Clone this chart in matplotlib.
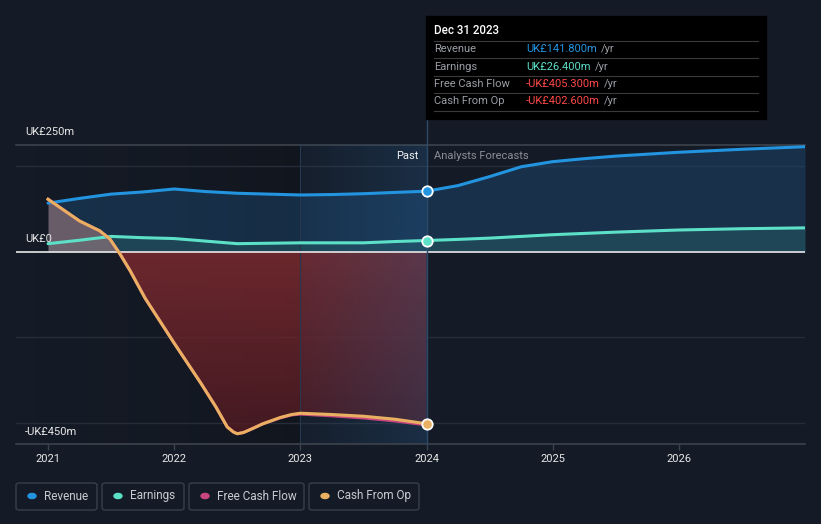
import numpy as np
import matplotlib.pyplot as plt
from matplotlib.patches import Rectangle, FancyBboxPatch, Circle

plt.rcParams['font.family'] = ['Roboto', 'DejaVu Sans']

# past data (UK£m)
past_x = [2021.0, 2021.25, 2021.5, 2021.75, 2022.0, 2022.25, 2022.5, 2022.75,
          2023.0, 2023.25, 2023.5, 2023.75, 2024.0]
revenue = [114, 125, 135, 140, 147, 141, 137, 135, 133, 134, 136, 139, 141.8]
earnings = [19, 27, 36, 33, 31, 25, 19, 20, 21, 21, 21, 24, 26.4]
cfo_x = [2021.0, 2021.25, 2021.41, 2021.49, 2021.57, 2021.65, 2021.77, 2022.0,
         2022.21, 2022.33, 2022.42, 2022.47, 2022.5, 2022.55, 2022.62, 2022.7,
         2022.84, 2022.93, 2023.0, 2023.25, 2023.5, 2023.75, 2024.0]
cash_from_op = [123, 72, 49, 30, -5, -44, -109, -214,
                -307, -363, -410, -422, -426, -423, -414, -403,
                -388, -381, -378, -381, -385, -392, -402.6]
free_cash_flow = [123, 72, 49, 30, -5, -44, -109, -214,
                  -307, -363, -410, -422, -426, -423, -414, -403,
                  -389, -382, -380, -384, -389, -396, -405.3]

# analyst forecasts
fc_x = [2024.0, 2024.25, 2024.5, 2024.75, 2025.0, 2025.25, 2025.5, 2026.0, 2026.5, 2027.0]
revenue_fc = [141.8, 155, 176, 199, 211, 218, 224, 233, 240, 246]
earnings_fc = [26.4, 29, 32, 36, 40, 43, 46, 51, 54, 56]

years = [2021, 2022, 2023, 2024, 2025, 2026]

BG = '#151b26'
BLUE = '#2394df'
TEAL = '#5ce0c8'
PINK = '#c8467f'
ORANGE = '#e9b062'

W, H = 821, 524
fig = plt.figure(figsize=(W / 100, H / 100), dpi=100, facecolor=BG)


def fx(x):
    return x / W


def fy(y):
    return 1 - y / H


ax = fig.add_axes([fx(16), fy(444), fx(805) - fx(16), fy(145) - fy(444)])
ax.set_facecolor(BG)
x0, x1 = 2020.746, 2027.0
y0, y1 = -450, 250
ax.set_xlim(x0, x1)
ax.set_ylim(y0, y1)

# darker past background, getting darker toward 2023
grad = np.zeros((2, 256, 4))
grad[..., 3] = np.linspace(0, 0.35, 256) ** 1.5
ax.imshow(grad, extent=[x0, 2023.0, y0, y1], aspect='auto', zorder=0.5)

# grid
for g in [200, -200, -400]:
    ax.axhline(g, color='#272d38', lw=1, zorder=0.8)
ax.axhline(250, color='#3d434d', lw=1.2, zorder=0.8, clip_on=False)

# revenue / earnings fills
rx = past_x + fc_x[1:]
rv = revenue + revenue_fc[1:]
ev = earnings + earnings_fc[1:]
ax.fill_between(rx, rv, 0, color='#1d4f7c', alpha=0.42, lw=0, zorder=1)
ax.fill_between(rx, ev, 0, color='#2f7a78', alpha=0.3, lw=0, zorder=1.1)

# cash flow fill with vertical gradient (negative part)
cfo = np.array(cash_from_op)
poly = ax.fill_between(cfo_x, np.minimum(cfo, 0), 0, color='none', lw=0, zorder=1.2)
rg = np.zeros((256, 2, 4))
top = np.array([0.50, 0.17, 0.19])
bot = np.array([0.30, 0.10, 0.13])
t = np.linspace(0, 1, 256)[:, None]
rg[..., :3] = (top * (1 - t) + bot * t)[:, None, :]
rg[..., 3] = 0.82
im = ax.imshow(rg, extent=[2021.0, 2024.0, y0, 0], aspect='auto', zorder=1.2,
               origin='upper')
im.set_clip_path(poly.get_paths()[0], transform=ax.transData)
# positive part: greyish pink
ax.fill_between(cfo_x, cfo, 0, where=cfo > 0, interpolate=True,
                color='#a07a80', alpha=0.6, lw=0, zorder=1.25)

# highlight band 2023-2024 (over the fills)
band = np.zeros((2, 256, 4))
band[..., 0] = 0.16
band[..., 1] = 0.40
band[..., 2] = 0.62
band[..., 3] = np.linspace(0.05, 0.26, 256)
ax.imshow(band, extent=[2023.0, 2024.0, y0, y1], aspect='auto', zorder=2)
ax.axvline(2023.0, color='#25384d', lw=0.8, zorder=2.1)

# lines
ax.plot(past_x, revenue, color=BLUE, lw=2.2, zorder=3, solid_capstyle='round')
ax.plot(fc_x, revenue_fc, color=BLUE, lw=2.2, zorder=3, solid_capstyle='round')
ax.plot(past_x, earnings, color=TEAL, lw=2.2, zorder=3, solid_capstyle='round')
ax.plot(fc_x, earnings_fc, color=TEAL, lw=2.2, zorder=3, solid_capstyle='round')
ax.plot(cfo_x, free_cash_flow, color=PINK, lw=2.2, zorder=3.1, solid_joinstyle='round')
ax.plot(cfo_x, cash_from_op, color=ORANGE, lw=2.2, zorder=3.2, solid_joinstyle='round')

# zero line
ax.axhline(0, color='#e8e8e8', lw=1.2, zorder=2.5)

# now marker line
ax.plot([2024.0, 2024.0], [y0, 308], color='#2b4a68', lw=1, zorder=2.6, clip_on=False)

# end markers
for v, c in [(revenue[-1], BLUE), (earnings[-1], TEAL), (cash_from_op[-1], ORANGE)]:
    ax.plot(2024.0, v, 'o', ms=7.5, color=c, mec='white', mew=1.3, zorder=4)

# axes styling
for s in ['top', 'left', 'right']:
    ax.spines[s].set_visible(False)
ax.spines['bottom'].set_color('#3d434d')
ax.spines['bottom'].set_linewidth(1.2)
ax.set_yticks([])
ax.set_xticks(years)
ax.set_xticklabels([str(y) for y in years])
ax.tick_params(axis='x', colors='#3d434d', length=4, width=1, pad=3,
               labelcolor='#e8e8e8', labelsize=8)

# y labels
fig.text(fx(25), fy(132), 'UK£250m', color='#e8e8e8', fontsize=8, va='center')
fig.text(fx(25), fy(239), 'UK£0', color='#e8e8e8', fontsize=8, va='center')
fig.text(fx(25), fy(432), '-UK£450m', color='#e8e8e8', fontsize=8, va='center')

fig.text(fx(418), fy(156), 'Past', color='#f0f0f0', fontsize=8, va='center', ha='right')
fig.text(fx(434), fy(156), 'Analysts Forecasts', color='#8a8f96', fontsize=8, va='center')

# tooltip
fig.patches.append(Rectangle((fx(426), fy(119)), fx(766) - fx(426), fy(16) - fy(119),
                             transform=fig.transFigure, color='#000000', zorder=5))
fig.text(fx(434), fy(31), 'Dec 31 2023', color='white', fontsize=8.3, va='center',
         zorder=6, fontweight='medium')
rows = [('Revenue', 'UK£141.800m', BLUE),
        ('Earnings', 'UK£26.400m', TEAL),
        ('Free Cash Flow', '-UK£405.300m', '#ff4848'),
        ('Cash From Op', '-UK£402.600m', '#ff4848')]
row_y = [49, 67, 84, 101]
sep_y = [41, 58, 76, 93, 111]
for sy in sep_y:
    fig.lines.append(plt.Line2D([fx(434), fx(758)], [fy(sy), fy(sy)],
                                transform=fig.transFigure, color='#3a3a3a', lw=0.8, zorder=6))
renderer = fig.canvas.get_renderer()
for (lab, val, col), yy in zip(rows, row_y):
    fig.text(fx(434), fy(yy), lab, color='#9a9ea5', fontsize=8, va='center', zorder=6)
    t1 = fig.text(fx(526), fy(yy), val, color=col, fontsize=8, va='center', zorder=6)
    bb = t1.get_window_extent(renderer)
    fig.text(bb.x1 / W + fx(4), fy(yy), '/yr', color='#9a9ea5', fontsize=8,
             va='center', zorder=6)

# legend
legend = [('Revenue', BLUE, 16, 97), ('Earnings', TEAL, 102, 184),
          ('Free Cash Flow', PINK, 189, 304), ('Cash From Op', ORANGE, 309, 419)]
for lab, col, xa, xb in legend:
    fig.patches.append(FancyBboxPatch((fx(xa), fy(510)), fx(xb) - fx(xa), fy(483) - fy(510),
                                      boxstyle='round,pad=0,rounding_size=0.004',
                                      transform=fig.transFigure, fc='none',
                                      ec='#3a404a', lw=1))
    fig.patches.append(Circle((fx(xa + 16), fy(496)), 4 / W, transform=fig.transFigure,
                              color=col))
    fig.text(fx(xa + 28), fy(496), lab, color='#c8ccd2', fontsize=8.5, va='center')

fig.savefig('out.png', dpi=100, facecolor=BG)
